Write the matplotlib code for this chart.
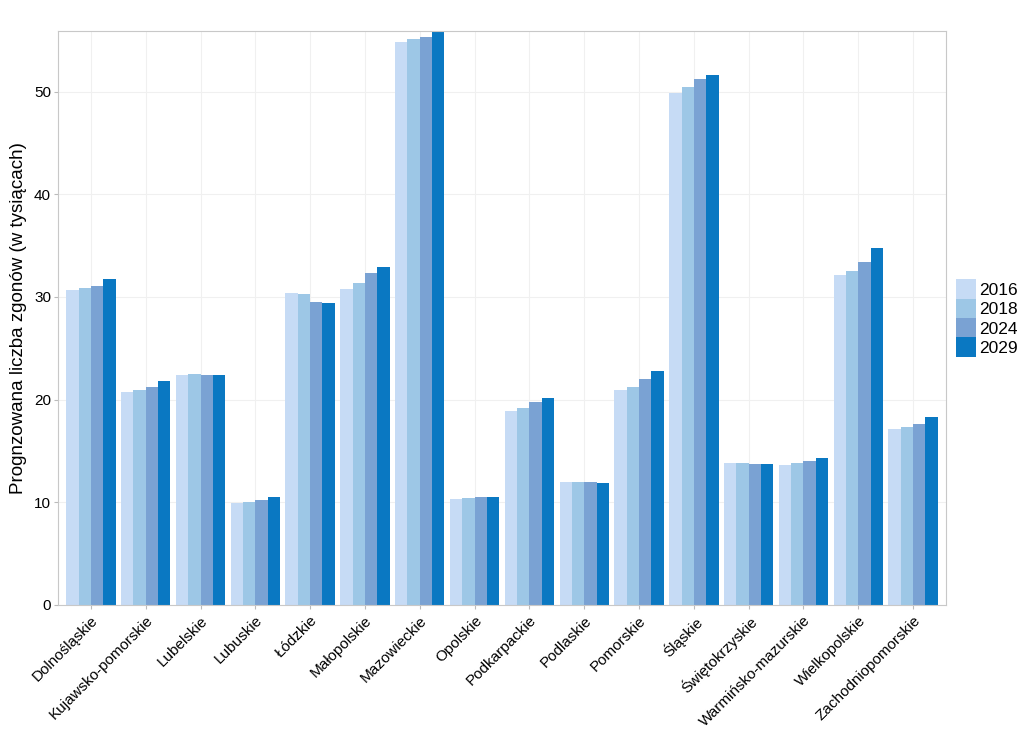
import matplotlib
matplotlib.use("Agg")
import matplotlib.pyplot as plt
import numpy as np
from matplotlib.patches import Patch

plt.rcParams['font.family'] = ['Liberation Sans', 'DejaVu Sans']

regions = ["Dolnośląskie", "Kujawsko-pomorskie", "Lubelskie", "Lubuskie", "Łódzkie",
           "Małopolskie", "Mazowieckie", "Opolskie", "Podkarpackie", "Podlaskie",
           "Pomorskie", "Śląskie", "Świętokrzyskie", "Warmińsko-mazurskie",
           "Wielkopolskie", "Zachodniopomorskie"]
years = ["2016", "2018", "2024", "2029"]
v2016 = [30.7, 20.7, 22.4, 9.9, 30.4, 30.8, 54.8, 10.3, 18.9, 12.0, 20.9, 49.9, 13.8, 13.6, 32.1, 17.1]
v2018 = [30.9, 20.9, 22.5, 10.0, 30.3, 31.4, 55.1, 10.4, 19.2, 12.0, 21.2, 50.4, 13.8, 13.8, 32.5, 17.3]
v2024 = [31.1, 21.2, 22.4, 10.2, 29.5, 32.3, 55.3, 10.5, 19.8, 12.0, 22.0, 51.2, 13.7, 14.0, 33.4, 17.6]
v2029 = [31.7, 21.8, 22.4, 10.5, 29.4, 32.9, 55.9, 10.5, 20.2, 11.9, 22.8, 51.6, 13.7, 14.3, 34.8, 18.3]
series = [v2016, v2018, v2024, v2029]
colors = ["#c6dbf5", "#9dc7e6", "#7aa2d3", "#0a78c2"]

fig = plt.figure(figsize=(10.24, 7.51), dpi=100)
ax = fig.add_axes([58/1024, 1-605/751, 888/1024, 574/751])

x = np.arange(len(regions))
w = 0.9 / 4
for i, (vals, c) in enumerate(zip(series, colors)):
    ax.bar(x - 0.45 + w * (i + 0.5), vals, width=w, color=c, zorder=2, linewidth=0)

ax.set_xlim(-0.6, len(regions) - 0.4)
ax.set_ylim(0, max(v2029))
ax.set_yticks([0, 10, 20, 30, 40, 50])
ax.set_xticks(x)
ax.set_xticklabels(regions, rotation=45, ha='right', rotation_mode='anchor', fontsize=11)
ax.tick_params(axis='y', labelsize=11, length=3, color='#bbbbbb', pad=2)
ax.tick_params(axis='x', length=3, color='#bbbbbb', pad=3)
ax.grid(True, which='major', color='#f0f0f0', linewidth=0.8, zorder=0)
ax.set_axisbelow(True)
for s in ax.spines.values():
    s.set_color('#c8c8c8')
    s.set_linewidth(0.8)
ax.set_ylabel("Prognzowana liczba zgonów (w tysiącach)", fontsize=13.5, labelpad=5)

handles = [Patch(facecolor=c, edgecolor='none') for c in colors]
fig.legend(handles, years, loc='center left', bbox_to_anchor=(944/1024, 1-318/751),
           frameon=False, fontsize=12.5, handlelength=1.15, handleheight=1.35,
           handletextpad=0.2, labelspacing=0.0, borderpad=0.2)

fig.savefig("out.png", dpi=100)
